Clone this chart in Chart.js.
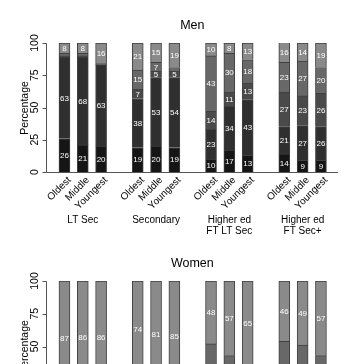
<!DOCTYPE html>
<html><head><meta charset="utf-8">
<script src="https://cdn.jsdelivr.net/npm/chart.js@4"></script>
<style>
html,body{margin:0;padding:0;overflow:hidden;background:#fff;width:356px;height:364px}
canvas{position:absolute;left:0}
#men{top:0}
#women{top:238px}
</style></head><body>
<canvas id="men" width="356" height="238"></canvas>
<canvas id="women" width="356" height="240"></canvas>
<script>
// ---- data ----
const groups = [['LT Sec'], ['Secondary'], ['Higher ed', 'FT LT Sec'], ['Higher ed', 'FT Sec+']];
const ages = ['Oldest', 'Middle', 'Youngest'];
const yTicks = [0, 25, 50, 75, 100];
const statuses = ['Status 1', 'Status 2', 'Status 3', 'Status 4', 'Status 5'];
// order: LT Sec (O,M,Y), Secondary (O,M,Y), Higher ed FT LT Sec (O,M,Y), Higher ed FT Sec+ (O,M,Y)
const men1 = [26, 21, 20, 19, 20, 19, 10, 17, 13, 14, 9, 9];
const men2 = [63, 68, 63, 38, 53, 54, 23, 34, 43, 21, 27, 26];
const men3 = [1, 1, 0, 7, 5, 5, 14, 11, 13, 27, 23, 26];
const men4 = [2, 2, 1, 15, 7, 3, 43, 30, 18, 23, 27, 20];
const men5 = [8, 8, 16, 21, 15, 19, 10, 8, 13, 16, 14, 19];
const women1 = [2, 2, 2, 3, 2, 2, 2, 3, 2, 2, 3, 3];
const women2 = [4, 4, 4, 7, 5, 4, 5, 6, 6, 4, 5, 5];
const women3 = [1, 1, 1, 2, 2, 1, 3, 4, 3, 4, 5, 5];
const women4 = [6, 7, 7, 14, 10, 8, 42, 30, 24, 44, 38, 30];
const women5 = [87, 86, 86, 74, 81, 85, 48, 57, 65, 46, 49, 57];

// ---- build slots (3 bars per group + spacer) ----
const slotLabels = [];
const slotGroup = [];
groups.forEach((g, gi) => {
  ages.forEach(a => { slotLabels.push(a); slotGroup.push(gi); });
  if (gi < groups.length - 1) { slotLabels.push(''); slotGroup.push(-1); }
});
function expand(arr) {
  const out = []; let k = 0;
  slotGroup.forEach(g => { out.push(g < 0 ? null : arr[k++]); });
  return out;
}
const fills = ['#151515', '#2f2f2f', '#4a4a4a', '#686868', '#8a8a8a'];
const FONT = '"Liberation Sans", Arial, Helvetica, sans-serif';

const rAxes = {
  id: 'rAxes',
  afterDraw(chart) {
    const { ctx, chartArea, scales: { x, y } } = chart;
    const title = chart.options.plugins.rAxes.title;
    const y0 = Math.round(y.getPixelForValue(0)) + 0.5;
    const y100 = Math.round(y.getPixelForValue(100)) + 0.5;
    const axX = Math.round(chartArea.left - 9) + 0.5;
    const xEnd = chartArea.right + 8;
    ctx.save();
    // value labels inside segments
    ctx.fillStyle = '#ffffff';
    ctx.font = '8px ' + FONT;
    ctx.textAlign = 'center';
    ctx.textBaseline = 'middle';
    chart.data.datasets.forEach((ds, di) => {
      const meta = chart.getDatasetMeta(di);
      meta.data.forEach((el, i) => {
        const v = ds.data[i];
        if (v == null || v < 5) return;
        ctx.fillText(String(v), el.x, (el.y + el.base) / 2 + 0.5);
      });
    });
    // axes lines
    ctx.strokeStyle = '#555';
    ctx.lineWidth = 1;
    ctx.beginPath();
    ctx.moveTo(axX, y0); ctx.lineTo(axX, y100);
    ctx.moveTo(axX, y0); ctx.lineTo(xEnd, y0);
    yTicks.forEach(v => {
      const py = Math.round(y.getPixelForValue(v)) + 0.5;
      ctx.moveTo(axX - 4, py); ctx.lineTo(axX, py);
    });
    ctx.stroke();
    // y tick labels (rotated)
    ctx.fillStyle = '#000';
    ctx.font = '10.5px ' + FONT;
    yTicks.forEach(v => {
      const py = y.getPixelForValue(v);
      ctx.save();
      ctx.translate(axX - 11.5, py);
      ctx.rotate(-Math.PI / 2);
      ctx.textAlign = 'center'; ctx.textBaseline = 'middle';
      ctx.fillText(String(v), 0, 0);
      ctx.restore();
    });
    // y title
    ctx.save();
    ctx.translate(axX - 21, (y0 + y100) / 2);
    ctx.rotate(-Math.PI / 2);
    ctx.textAlign = 'center'; ctx.textBaseline = 'middle';
    ctx.fillText('Percentage', 0, 0);
    ctx.restore();
    // x rotated labels
    ctx.font = '10px ' + FONT;
    slotLabels.forEach((lab, i) => {
      if (!lab) return;
      const px = x.getPixelForValue(i);
      ctx.save();
      ctx.translate(px + 5, y0 + 6);
      ctx.rotate(-Math.PI / 4);
      ctx.textAlign = 'right'; ctx.textBaseline = 'middle';
      ctx.fillText(lab, 0, 0);
      ctx.restore();
    });
    // group labels
    ctx.textAlign = 'center'; ctx.textBaseline = 'middle';
    groups.forEach((g, gi) => {
      const idx = slotGroup.map((s, i) => s === gi ? i : -1).filter(i => i >= 0);
      const cx = (x.getPixelForValue(idx[0]) + x.getPixelForValue(idx[idx.length - 1])) / 2;
      g.forEach((line, li) => ctx.fillText(line, cx, y0 + 48 + li * 10.5));
    });
    // title
    ctx.font = '12.5px ' + FONT;
    ctx.fillText(title, (axX + xEnd) / 2, chartArea.top - 17.5);
    ctx.restore();
  }
};

function makeChart(id, title, series) {
  new Chart(document.getElementById(id), {
    type: 'bar',
    data: {
      labels: slotLabels,
      datasets: series.map((s, i) => ({
        label: statuses[i],
        data: expand(s),
        backgroundColor: fills[i],
        borderColor: '#404040',
        borderWidth: 1,
        barThickness: 11
      }))
    },
    options: {
      responsive: false,
      animation: false,
      devicePixelRatio: 1,
      layout: { padding: { left: 55.3, right: 25.9, top: 43, bottom: 66 } },
      plugins: { legend: { display: false }, tooltip: { enabled: false }, rAxes: { title } },
      scales: {
        x: { display: false, stacked: true },
        y: { display: false, stacked: true, min: 0, max: 100 }
      }
    },
    plugins: [rAxes]
  });
}
makeChart('men', 'Men', [men1, men2, men3, men4, men5]);
makeChart('women', 'Women', [women1, women2, women3, women4, women5]);
</script>
</body></html>
